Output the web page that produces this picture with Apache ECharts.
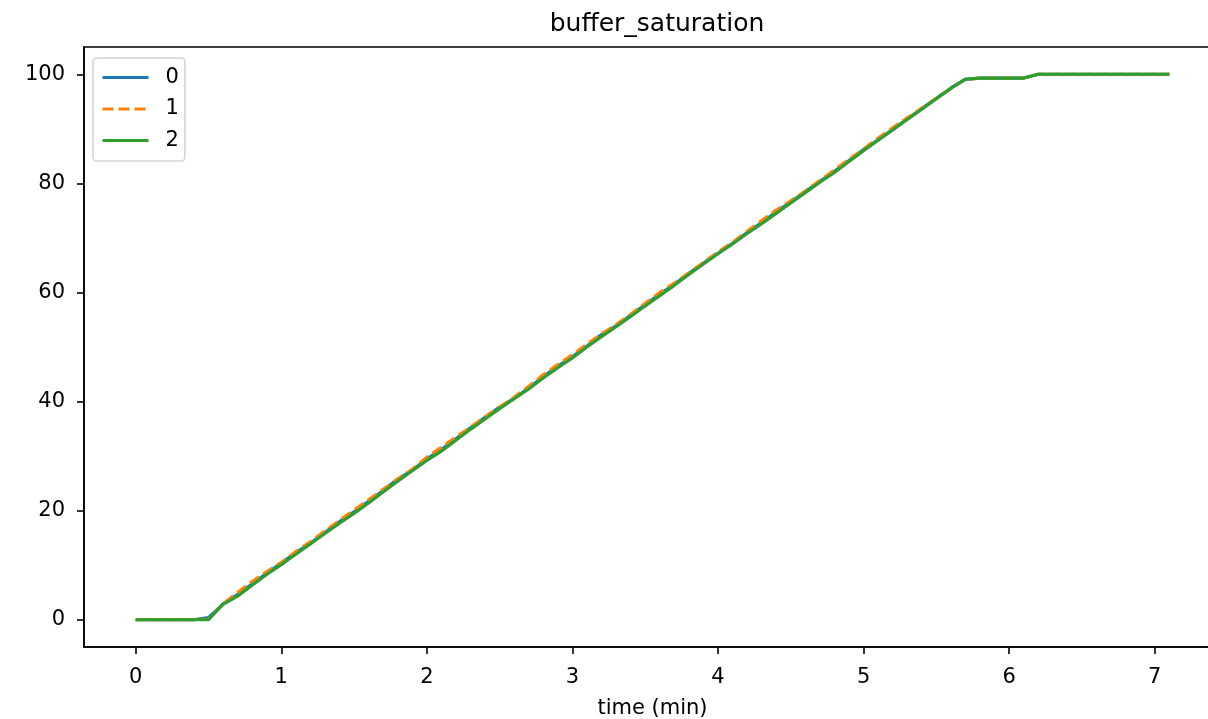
<!DOCTYPE html>
<html>
<head>
<meta charset="utf-8">
<script src="https://cdn.jsdelivr.net/npm/echarts@6/dist/echarts.min.js"></script>
<style>
html,body{margin:0;padding:0;background:#fff;overflow:hidden;}
#chart{width:1240px;height:719px;}
</style>
</head>
<body>
<div id="chart"></div>
<script>
// time in minutes
const timeMin = [0.0,0.1,0.2,0.3,0.4,0.5,0.6,0.7,0.8,0.9,1.0,1.1,1.2,1.3,1.4,1.5,1.6,1.7,1.8,1.9,2.0,2.1,2.2,2.3,2.4,2.5,2.6,2.7,2.8,2.9,3.0,3.1,3.2,3.3,3.4,3.5,3.6,3.7,3.8,3.9,4.0,4.1,4.2,4.3,4.4,4.5,4.6,4.7,4.8,4.9,5.0,5.1,5.2,5.3,5.4,5.5,5.6,5.7,5.8,5.9,6.0,6.1,6.2,6.3,6.4,6.5,6.6,6.7,6.8,6.9,7.0,7.1];
const series0 = [0,0,0,0,0,0.4,2.9,4.6,6.6,8.5,10.4,12.3,14.0,16.0,18.0,19.8,21.7,23.7,25.8,27.4,29.5,31.2,33.2,35.2,37.1,39.0,40.6,42.5,44.6,46.5,48.2,50.2,52.3,53.9,55.8,57.8,59.7,61.5,63.5,65.4,67.2,69.0,71.0,72.8,74.8,76.6,78.5,80.4,82.2,84.2,86.2,88.0,89.9,91.8,93.7,95.6,97.5,99.1,99.3,99.3,99.3,99.3,100,100,100,100,100,100,100,100,100,100];
const series1 = [0,0,0,0,0,0.1,2.9,5.0,7.0,8.8,10.5,12.5,14.3,16.3,18.2,20.1,22.0,23.9,25.8,27.6,29.8,31.6,33.5,35.3,37.2,39.0,40.8,42.8,44.9,46.8,48.6,50.5,52.4,54.1,56.0,58.0,60.0,61.7,63.6,65.5,67.4,69.2,71.2,73.2,75.1,76.8,78.6,80.5,82.5,84.4,86.3,88.3,90.2,92.0,93.8,95.6,97.4,99.1,99.3,99.3,99.3,99.3,100,100,100,100,100,100,100,100,100,100];
const series2 = [0,0,0,0,0,0,2.8,4.3,6.3,8.3,10.1,12.0,13.9,15.8,17.7,19.5,21.4,23.4,25.4,27.3,29.2,30.9,32.9,34.9,36.8,38.7,40.5,42.3,44.3,46.2,48.0,50.0,51.9,53.7,55.6,57.5,59.4,61.3,63.3,65.2,67.1,68.9,70.8,72.6,74.5,76.4,78.3,80.2,82.0,84.0,86.0,87.9,89.8,91.7,93.6,95.5,97.4,99.1,99.3,99.3,99.3,99.3,100,100,100,100,100,100,100,100,100,100];
const seriesNames = ['0','1','2'];
const xTicks = [0,1,2,3,4,5,6,7];
const yTicks = [0,20,40,60,80,100];
const titleText = 'buffer_saturation';
const xLabel = 'time (min)';

const colors = ['#1f77b4','#ff7f0e','#2ca02c'];
const allSeries = [series0, series1, series2];
const font = 'DejaVu Sans';

const chart = echarts.init(document.getElementById('chart'), null, {renderer:'canvas'});
chart.setOption({
  animation:false,
  backgroundColor:'#fff',
  title:{
    text:titleText,
    left:652, top:7, textAlign:'center',
    textStyle:{fontFamily:font,fontSize:25,fontWeight:'normal',color:'#000'}
  },
  grid:{left:84,top:47,right:19,bottom:72,outerBoundsMode:'none',containLabel:false,show:true,borderColor:'#000',borderWidth:1.6,backgroundColor:'transparent'},
  legend:{
    data:seriesNames,
    orient:'vertical',
    left:93, top:58,
    padding:[9,6,10,8],
    itemWidth:46, itemHeight:21, itemGap:10.5,
    backgroundColor:'rgba(255,255,255,0.8)',
    borderColor:'#d5d5d5', borderWidth:1.6, borderRadius:4,
    itemStyle:{color:'transparent',borderWidth:0,opacity:0},
    lineStyle:{width:3.1},
    textStyle:{fontFamily:font,fontSize:21,color:'#000',padding:[0,0,0,12]}
  },
  xAxis:{
    type:'value', min:-0.355, max:7.455,
    name:xLabel, nameLocation:'middle', nameGap:51,
    nameTextStyle:{fontFamily:font,fontSize:21,color:'#000'},
    axisLine:{show:true,onZero:false,lineStyle:{color:'#000',width:1.6}},
    axisTick:{show:true,length:7,lineStyle:{color:'#000',width:1.6},customValues:xTicks},
    axisLabel:{fontFamily:font,fontSize:21,color:'#000',margin:20,customValues:xTicks,formatter:v=>String(v)},
    splitLine:{show:false}
  },
  yAxis:{
    type:'value', min:-5, max:105,
    axisLine:{show:true,onZero:false,lineStyle:{color:'#000',width:1.6}},
    axisTick:{show:true,length:7,lineStyle:{color:'#000',width:1.6},customValues:yTicks},
    axisLabel:{fontFamily:font,fontSize:21,color:'#000',margin:19,customValues:yTicks,formatter:v=>String(v)},
    splitLine:{show:false}
  },
  series: allSeries.map((vals,i)=>({
    name:seriesNames[i],
    type:'line',
    data:timeMin.map((t,j)=>[t,vals[j]]),
    showSymbol:false, symbol:'none',
    color:colors[i],
    lineStyle:{color:colors[i],width:3.1,type:i===1?[11,5]:'solid',cap:'butt'},
    itemStyle:{color:colors[i]},
    z:2+i
  }))
});
</script>
</body>
</html>
